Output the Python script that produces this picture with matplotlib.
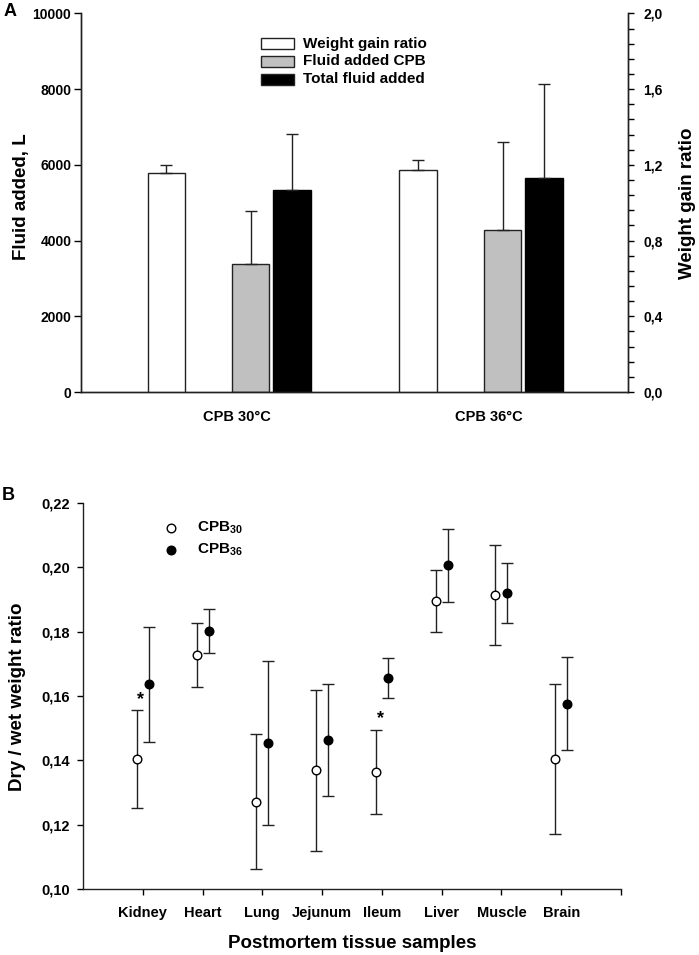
import numpy as np
import matplotlib
matplotlib.use("Agg")
import matplotlib.pyplot as plt
from matplotlib.patches import Rectangle
from matplotlib.ticker import MultipleLocator, FuncFormatter

plt.rcParams["font.family"] = ["Liberation Sans", "DejaVu Sans"]
plt.rcParams["font.weight"] = "bold"
plt.rcParams["mathtext.fontset"] = "custom"
plt.rcParams["mathtext.default"] = "bf"
plt.rcParams["mathtext.bf"] = "Liberation Sans:bold"
plt.rcParams["mathtext.rm"] = "Liberation Sans:bold"

# ---- panel A data ----
groups_a = ["CPB 30°C", "CPB 36°C"]
weight_gain = [1.157, 1.174]
weight_gain_sd = [0.040, 0.050]
fluid_cpb = [3380, 4280]
fluid_cpb_sd = [1408, 2330]
total_fluid = [5334, 5651]
total_fluid_sd = [1479, 2474]
legend_a = ["Weight gain ratio", "Fluid added CPB", "Total fluid added"]

# ---- panel B data ----
tissues = ["Kidney", "Heart", "Lung", "Jejunum", "Ileum", "Liver", "Muscle", "Brain"]
cpb30 = [0.1404, 0.1727, 0.1272, 0.1369, 0.1363, 0.1896, 0.1914, 0.1403]
cpb30_sd = [0.0151, 0.0099, 0.0210, 0.0250, 0.0130, 0.0097, 0.0155, 0.0233]
cpb36 = [0.1636, 0.1803, 0.1454, 0.1463, 0.1656, 0.2006, 0.1921, 0.1576]
cpb36_sd = [0.0178, 0.0068, 0.0256, 0.0175, 0.0062, 0.0113, 0.0093, 0.0144]
signif = ["Kidney", "Ileum"]
star_y = [0.1588, 0.1531]


def comma(v, pos, fmt):
    return (fmt % v).replace(".", ",")


fig = plt.figure(figsize=(6.99, 9.55), dpi=100)

# ================= Panel A =================
ax = fig.add_axes([0.1159, 0.5895, 0.7825, 0.3965])
ax2 = ax.twinx()

x = np.arange(len(groups_a))
w = 0.15
off_white, off_grey, off_black = -0.28, 0.054, 0.22

ax.bar(x + off_grey, fluid_cpb, w, color="#c0c0c0", edgecolor="#222222", lw=1.0,
       yerr=[np.zeros(2), fluid_cpb_sd], capsize=4,
       error_kw=dict(ecolor="#222222", elinewidth=1.0, capthick=1.0))
ax.bar(x + off_black, total_fluid, w, color="black", edgecolor="black", lw=1.0,
       yerr=[np.zeros(2), total_fluid_sd], capsize=4,
       error_kw=dict(ecolor="#222222", elinewidth=1.0, capthick=1.0))
ax2.bar(x + off_white, weight_gain, w, color="white", edgecolor="#222222", lw=1.0,
        yerr=[np.zeros(2), weight_gain_sd], capsize=4,
        error_kw=dict(ecolor="#222222", elinewidth=1.0, capthick=1.0))

ax.set_xlim(-0.619, 1.552)
ax.set_ylim(0, 10000)
ax2.set_ylim(0, 2.0)
ax.set_xticks(x)
ax.set_xticklabels(groups_a, fontsize=10.5)
ax.tick_params(axis="x", length=0, pad=13)
ax.yaxis.set_major_locator(MultipleLocator(2000))
ax.tick_params(axis="y", length=5, width=1, labelsize=10, pad=2)
ax2.yaxis.set_major_locator(MultipleLocator(0.4))
ax2.yaxis.set_minor_locator(MultipleLocator(0.08))
ax2.yaxis.set_major_formatter(FuncFormatter(lambda v, p: comma(v, p, "%.1f")))
ax2.tick_params(axis="y", which="major", length=4, width=1, labelsize=10, pad=7)
ax2.tick_params(axis="y", which="minor", length=4, width=1)
for a in (ax, ax2):
    a.spines["top"].set_visible(False)
    for s in ("left", "right", "bottom"):
        a.spines[s].set_linewidth(1.0)
        a.spines[s].set_color("#222222")

# legend drawn by hand, like the original
leg_y = [0.920, 0.873, 0.8265]
leg_col = ["white", "#c0c0c0", "black"]
for yy, col, lab in zip(leg_y, leg_col, legend_a):
    ax.add_patch(Rectangle((0.329, yy - 0.0145), 0.0603, 0.029, transform=ax.transAxes,
                           facecolor=col, edgecolor="#222222", lw=1.0, clip_on=False))
    ax.text(0.406, yy, lab, transform=ax.transAxes, fontsize=11, va="center", ha="left")

fig.text(22 / 699, 1 - 197 / 955, "Fluid added, L", rotation=90, fontsize=13.5,
         ha="center", va="center")
fig.text(688 / 699, 1 - 203 / 955, "Weight gain ratio", rotation=90, fontsize=13.5,
         ha="center", va="center")
fig.text(10 / 699, 1 - 11 / 955, "A", fontsize=13, ha="center", va="center")

# ================= Panel B =================
bx = fig.add_axes([0.1187, 0.0691, 0.7697, 0.4042])
pos = np.arange(1, len(tissues) + 1)
bx.errorbar(pos - 0.1, cpb30, yerr=cpb30_sd, fmt="o", ms=6.2, mfc="white", mec="black",
            mew=1.0, ecolor="#222222", elinewidth=1.0, capsize=4.3, capthick=1.0, zorder=3)
bx.errorbar(pos + 0.1, cpb36, yerr=cpb36_sd, fmt="o", ms=6.2, mfc="black", mec="black",
            mew=1.0, ecolor="#222222", elinewidth=1.0, capsize=4.3, capthick=1.0, zorder=3)
for name, sy in zip(signif, star_y):
    i = tissues.index(name) + 1
    bx.text(i - 0.03, sy, "*", fontsize=13, ha="center", va="center")

bx.set_xlim(0, 9)
bx.set_ylim(0.10, 0.22)
bx.set_xticks(list(pos) + [9])
bx.set_xticklabels(tissues + [""], fontsize=10.5)
bx.yaxis.set_major_locator(MultipleLocator(0.02))
bx.yaxis.set_major_formatter(FuncFormatter(lambda v, p: comma(v, p, "%.2f")))
bx.tick_params(axis="x", length=4, width=1, pad=8)
bx.tick_params(axis="y", length=4, width=1, labelsize=10.5, pad=5.5)
bx.spines["top"].set_visible(False)
bx.spines["right"].set_visible(False)
for s in ("left", "bottom"):
    bx.spines[s].set_linewidth(1.0)
    bx.spines[s].set_color("#222222")

bx.plot([0.1636], [0.935], "o", ms=6.2, mfc="white", mec="black", mew=1.0,
        transform=bx.transAxes, clip_on=False)
bx.plot([0.1636], [0.878], "o", ms=6.2, mfc="black", mec="black", mew=1.0,
        transform=bx.transAxes, clip_on=False)
bx.text(0.212, 0.935, "CPB$_{30}$", transform=bx.transAxes, fontsize=11, va="center")
bx.text(0.212, 0.878, "CPB$_{36}$", transform=bx.transAxes, fontsize=11, va="center")

fig.text(352 / 699, 1 - 943 / 955, "Postmortem tissue samples", fontsize=13.5,
         ha="center", va="center")
fig.text(18 / 699, 1 - 697 / 955, "Dry / wet weight ratio", rotation=90, fontsize=13.5,
         ha="center", va="center")
fig.text(8 / 699, 1 - 495 / 955, "B", fontsize=13, ha="center", va="center")

fig.savefig("out.png", dpi=100)
